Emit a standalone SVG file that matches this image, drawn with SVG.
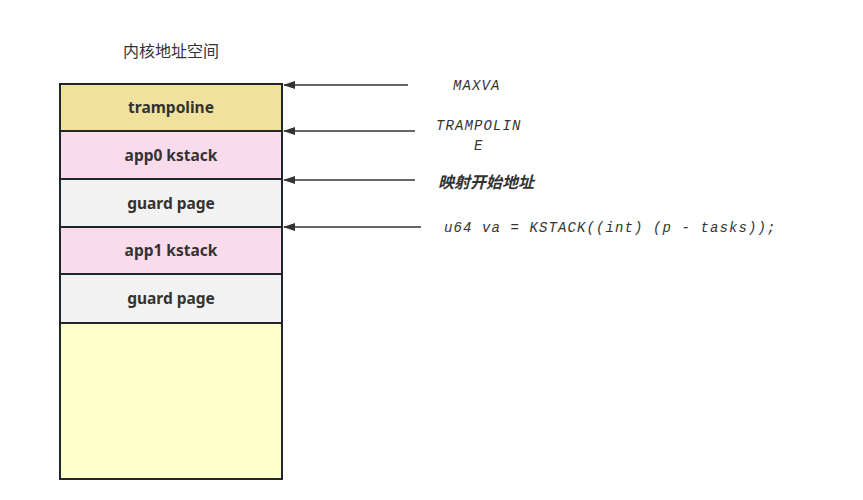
<svg xmlns="http://www.w3.org/2000/svg" width="863" height="500" viewBox="0 0 863 500">
<style>
.box{stroke:#1f262c;stroke-width:2}
.lbl{font-family:"Noto Sans","Liberation Sans",sans-serif;font-weight:bold;font-size:15.5px;fill:#333;text-anchor:middle}
.code{font-family:"Liberation Mono",monospace;font-style:italic;font-size:14px;fill:#333;letter-spacing:1.1px}
.conn{stroke:#333;stroke-width:1.5;fill:none}
</style>
<defs>
<marker id="ah" markerWidth="12" markerHeight="8" refX="11" refY="4" orient="auto" markerUnits="userSpaceOnUse">
<path d="M0,0 L12,4 L0,8 Z" fill="#333"/>
</marker>
</defs>
<rect width="863" height="500" fill="#fff"/>
<text x="171" y="57" font-family="Noto Sans CJK SC,sans-serif" font-size="16" fill="#333" text-anchor="middle">内核地址空间</text>
<g id="bottom"><rect class="box" x="60" y="323" width="222" height="156" fill="#ffffcc"/></g>
<g id="trampoline"><rect class="box" x="60" y="84" width="222" height="47" fill="#f0e19d"/><text class="lbl" x="171" y="113">trampoline</text></g>
<g id="app0"><rect class="box" x="60" y="131" width="222" height="48" fill="#fadbeb"/><text class="lbl" x="171" y="161">app0 kstack</text></g>
<g id="guard0"><rect class="box" x="60" y="179" width="222" height="48" fill="#f2f2f2"/><text class="lbl" x="171" y="209">guard page</text></g>
<g id="app1"><rect class="box" x="60" y="227" width="222" height="47" fill="#fadbeb"/><text class="lbl" x="171" y="256">app1 kstack</text></g>
<g id="guard1"><rect class="box" x="60" y="274" width="222" height="49" fill="#f2f2f2"/><text class="lbl" x="171" y="304">guard page</text></g>
<g id="connectors">
<line class="conn" x1="408" y1="85" x2="284" y2="85" marker-end="url(#ah)"/>
<line class="conn" x1="415" y1="131" x2="284" y2="131" marker-end="url(#ah)"/>
<line class="conn" x1="415" y1="180" x2="284" y2="180" marker-end="url(#ah)"/>
<line class="conn" x1="421" y1="227" x2="284" y2="227" marker-end="url(#ah)"/>
</g>
<g id="labels">
<text class="code" x="453" y="90">MAXVA</text>
<text class="code" x="436" y="130">TRAMPOLIN</text>
<text class="code" x="474" y="150">E</text>
<text x="438" y="188" font-family="Noto Sans CJK SC,sans-serif" font-size="16" font-style="italic" font-weight="bold" fill="#333">映射开始地址</text>
<text class="code" x="444" y="232">u64 va = KSTACK((int) (p - tasks));</text>
</g>
</svg>
